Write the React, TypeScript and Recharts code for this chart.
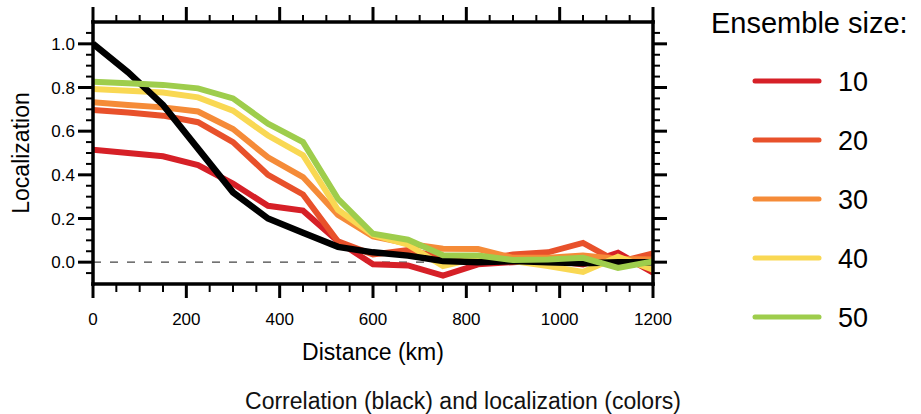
import { LineChart, Line, XAxis, YAxis, ReferenceLine, Legend } from "recharts";

// distance (km) of each point
const distance = [0, 75, 150, 225, 300, 375, 450, 525, 600, 675, 750, 825, 900, 975, 1050, 1125, 1200];
// black line
const correlation = [1.0, 0.87, 0.72, 0.52, 0.32, 0.2, 0.135, 0.07, 0.045, 0.03, 0.005, 0.0, 0.005, 0.0, -0.005, 0.0, 0.0];
// localization per ensemble size
const size10 = [0.515, 0.5, 0.485, 0.445, 0.36, 0.258, 0.236, 0.095, -0.01, -0.015, -0.062, -0.01, 0.0, 0.01, -0.01, 0.043, -0.048];
const size20 = [0.697, 0.685, 0.671, 0.641, 0.55, 0.4, 0.31, 0.095, 0.035, 0.055, 0.02, 0.01, 0.035, 0.045, 0.088, 0.0, 0.04];
const size30 = [0.732, 0.72, 0.709, 0.69, 0.61, 0.48, 0.39, 0.217, 0.118, 0.085, 0.062, 0.06, 0.02, 0.02, 0.03, 0.015, 0.012];
const size40 = [0.793, 0.785, 0.777, 0.755, 0.694, 0.58, 0.49, 0.24, 0.126, 0.08, -0.018, 0.02, 0.005, -0.018, -0.045, 0.025, -0.035];
const size50 = [0.826, 0.82, 0.812, 0.796, 0.75, 0.634, 0.55, 0.29, 0.13, 0.103, 0.032, 0.03, 0.01, 0.012, 0.02, -0.026, 0.003];

const sizeNames = ["10", "20", "30", "40", "50"];
const sizeColors = ["#d62027", "#e8512b", "#f58b38", "#f9d853", "#9ecd4c"];

const xTicks = [0, 50, 100, 150, 200, 250, 300, 350, 400, 450, 500, 550, 600, 650, 700, 750, 800, 850, 900, 950, 1000, 1050, 1100, 1150, 1200];
const yTicks = [-0.05, 0, 0.05, 0.1, 0.15, 0.2, 0.25, 0.3, 0.35, 0.4, 0.45, 0.5, 0.55, 0.6, 0.65, 0.7, 0.75, 0.8, 0.85, 0.9, 0.95, 1.0, 1.05];

const sizeSeries = [size10, size20, size30, size40, size50];

const data = distance.map((d, i) => {
  const row: any = { d, corr: correlation[i] };
  sizeSeries.forEach((s, k) => (row["n" + sizeNames[k]] = s[i]));
  return row;
});

const font = "'Liberation Sans', Arial, sans-serif";
const frame = { stroke: "#000", strokeWidth: 3.5, strokeLinecap: "square" as const };

const isMajorX = (v: number) => v % 200 === 0;
const isMajorY = (v: number) => Math.round(v * 100) % 20 === 0;

const BottomTick = ({ x, y, payload }: any) => {
  const major = isMajorX(payload.value);
  return (
    <g>
      <line x1={x} y1={y} x2={x} y2={y + (major ? 14 : 8)} stroke="#000" strokeWidth={major ? 3 : 2} />
      {major && (
        <text x={x} y={y + 41} textAnchor="middle" fontSize={17} fill="#000">
          {payload.value}
        </text>
      )}
    </g>
  );
};

const TopTick = ({ x, y, payload }: any) => {
  const major = isMajorX(payload.value);
  return <line x1={x} y1={y} x2={x} y2={y - (major ? 15 : 7)} stroke="#000" strokeWidth={major ? 3 : 2} />;
};

const LeftTick = ({ x, y, payload }: any) => {
  const major = isMajorY(payload.value);
  return (
    <g>
      <line x1={x} y1={y} x2={x - (major ? 15 : 7)} y2={y} stroke="#000" strokeWidth={major ? 3 : 2} />
      {major && (
        <text x={x - 18} y={y} dy="0.36em" textAnchor="end" fontSize={17} fill="#000">
          {payload.value.toFixed(1)}
        </text>
      )}
    </g>
  );
};

const RightTick = ({ x, y, payload }: any) => {
  const major = isMajorY(payload.value);
  return <line x1={x} y1={y} x2={x + (major ? 14 : 7)} y2={y} stroke="#000" strokeWidth={major ? 3 : 2} />;
};

const XTitle = ({ viewBox }: any) => (
  <text x={viewBox.x + viewBox.width / 2} y={viewBox.y + 76} textAnchor="middle" fontSize={23} fill="#000">
    Distance (km)
  </text>
);

const YTitle = ({ viewBox }: any) => {
  const cx = viewBox.x - 12;
  const cy = viewBox.y + viewBox.height / 2;
  return (
    <text x={cx} y={cy} dy="0.36em" textAnchor="middle" fontSize={23} fill="#000" transform={`rotate(-90, ${cx}, ${cy})`}>
      Localization
    </text>
  );
};

const renderLegend = (props: any) => {
  const items = (props.payload || []).slice().sort((a: any, b: any) => Number(a.value) - Number(b.value));
  return (
    <svg width={221} height={360} style={{ fontFamily: font, display: "block" }}>
      <text x={11} y={33} fontSize={29} fill="#000">
        Ensemble size:
      </text>
      {items.map((it: any, i: number) => (
        <g key={it.value}>
          <line x1={55} x2={119} y1={81 + i * 59} y2={81 + i * 59} stroke={it.color} strokeWidth={5} strokeLinecap="round" />
          <text x={138} y={81 + i * 59} dy="0.36em" fontSize={27} fill="#000">
            {it.value}
          </text>
        </g>
      ))}
    </svg>
  );
};

export default function App() {
  return (
    <div style={{ position: "absolute", left: 0, top: 0, width: 921, height: 414, background: "#fff", fontFamily: font }}>
      <LineChart width={921} height={414} data={data} margin={{ top: 2, right: 248, bottom: 90, left: 33 }}>
        <XAxis
          dataKey="d"
          type="number"
          domain={[0, 1200]}
          allowDataOverflow
          ticks={xTicks}
          interval={0}
          tickSize={0}
          tickMargin={0}
          tickLine={false}
          axisLine={frame}
          tick={<BottomTick />}
          height={40}
          label={<XTitle />}
        />
        <XAxis
          xAxisId="top"
          orientation="top"
          dataKey="d"
          type="number"
          domain={[0, 1200]}
          allowDataOverflow
          ticks={xTicks}
          interval={0}
          tickSize={0}
          tickMargin={0}
          tickLine={false}
          axisLine={frame}
          tick={<TopTick />}
          height={20}
        />
        <YAxis
          type="number"
          domain={[-0.1, 1.1]}
          allowDataOverflow
          ticks={yTicks}
          interval={0}
          tickSize={0}
          tickMargin={0}
          tickLine={false}
          axisLine={frame}
          tick={<LeftTick />}
          width={60}
          label={<YTitle />}
        />
        <YAxis
          yAxisId="right"
          orientation="right"
          type="number"
          domain={[-0.1, 1.1]}
          allowDataOverflow
          ticks={yTicks}
          interval={0}
          tickSize={0}
          tickMargin={0}
          tickLine={false}
          axisLine={frame}
          tick={<RightTick />}
          width={20}
        />
        <ReferenceLine y={0} stroke="#444" strokeWidth={1.3} strokeDasharray="8 9" />
        {sizeNames.slice(0, 4).map((n, k) => (
          <Line
            key={n}
            dataKey={"n" + n}
            name={n}
            stroke={sizeColors[k]}
            strokeWidth={6}
            dot={false}
            activeDot={false}
            isAnimationActive={false}
          />
        ))}
        <Line dataKey="corr" name="corr" stroke="#000" strokeWidth={6.5} dot={false} activeDot={false} legendType="none" isAnimationActive={false} />
        <Line
          dataKey="n50"
          name="50"
          stroke={sizeColors[4]}
          strokeWidth={6}
          dot={false}
          activeDot={false}
          isAnimationActive={false}
        />
        <Legend
          layout="vertical"
          align="center"
          verticalAlign="middle"
          content={renderLegend}
          wrapperStyle={{ position: "absolute", left: 700, top: 0, width: 221, height: 360 }}
        />
      </LineChart>
      <svg width={921} height={414} style={{ position: "absolute", left: 0, top: 0, pointerEvents: "none" }}>
        <text x={463} y={409} textAnchor="middle" fontSize={23} fill="#111">
          Correlation (black) and localization (colors)
        </text>
      </svg>
    </div>
  );
}
